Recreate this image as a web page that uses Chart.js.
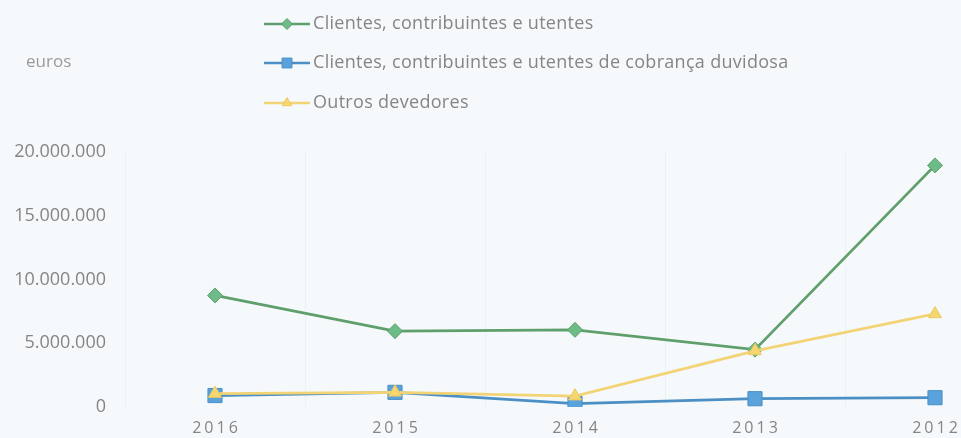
<!DOCTYPE html>
<html>
<head>
<meta charset="utf-8">
<script src="https://cdn.jsdelivr.net/npm/chart.js@4.4.1/dist/chart.umd.min.js"></script>
<style>
  html, body { margin: 0; padding: 0; background: #f6f9fb; overflow: hidden; }
  #wrap { position: relative; width: 1030px; height: 438px; }
</style>
</head>
<body>
<div id="wrap"><canvas id="c"></canvas></div>
<script>
// ---- data ----
const categories = ['2016', '2015', '2014', '2013', '2012'];
const clientes = [8750000, 5950000, 6050000, 4500000, 18950000];
const cobrancaDuvidosa = [900000, 1150000, 270000, 650000, 730000];
const outrosDevedores = [1050000, 1150000, 850000, 4400000, 7300000];
const seriesLabels = [
  'Clientes, contribuintes e utentes',
  'Clientes, contribuintes e utentes de cobrança duvidosa',
  'Outros devedores'
];
const unitLabel = 'euros';
const yTicks = [0, 5000000, 10000000, 15000000, 20000000];

const FONT = "'Open Sans', 'DejaVu Sans', sans-serif";
const TEXT = '#858585';
const legendRadius = [5.5, 7, 5.5];

function fmt(v) {
  return String(Math.round(v)).replace(/\B(?=(\d{3})+(?!\d))/g, '.');
}

const customDraw = {
  id: 'customDraw',
  afterDraw(chart) {
    const ctx = chart.ctx;
    ctx.save();
    // x tick labels with letter spacing
    const xs = chart.scales.x;
    ctx.font = '16px ' + FONT;
    ctx.fillStyle = TEXT;
    ctx.textAlign = 'center';
    ctx.textBaseline = 'middle';
    try { ctx.letterSpacing = '3px'; } catch (e) {}
    categories.forEach((c, i) => {
      ctx.fillText(c, xs.getPixelForValue(i) + 1.5, 428);
    });
    try { ctx.letterSpacing = '0px'; } catch (e) {}
    // unit label
    ctx.font = '17px ' + FONT;
    ctx.fillStyle = '#9a9a9a';
    ctx.textAlign = 'left';
    ctx.fillText(unitLabel, 26, 62);
    // legend
    const rows = [24, 63, 103];
    chart.data.datasets.forEach((ds, i) => {
      const y = rows[i];
      ctx.strokeStyle = ds.borderColor;
      ctx.lineWidth = 2.5;
      ctx.beginPath();
      ctx.moveTo(264, y);
      ctx.lineTo(310, y);
      ctx.stroke();
      ctx.fillStyle = ds.pointBackgroundColor;
      ctx.strokeStyle = ds.pointBorderColor;
      ctx.lineWidth = 1;
      Chart.helpers.drawPoint(ctx, {
        pointStyle: ds.pointStyle,
        radius: legendRadius[i],
        borderWidth: 1
      }, 287, y);
      ctx.fillStyle = TEXT;
      ctx.font = '18px ' + FONT;
      try { ctx.letterSpacing = '0.3px'; } catch (e) {}
      ctx.textAlign = 'left';
      ctx.textBaseline = 'middle';
      ctx.fillText(ds.label, 313, y);
      try { ctx.letterSpacing = '0px'; } catch (e) {}
    });
    ctx.restore();
  }
};

new Chart(document.getElementById('c'), {
  type: 'line',
  data: {
    labels: categories,
    datasets: [
      {
        label: seriesLabels[0],
        data: clientes,
        borderColor: '#5f9f6c',
        backgroundColor: '#6dbb86',
        pointBackgroundColor: '#6dbb86',
        pointBorderColor: '#5f9f6c',
        pointStyle: 'rectRot',
        pointRadius: 7.5,
        pointBorderWidth: 1,
        borderWidth: 2.8,
        order: 2
      },
      {
        label: seriesLabels[1],
        data: cobrancaDuvidosa,
        borderColor: '#4b8fc4',
        backgroundColor: '#5aa2dc',
        pointBackgroundColor: '#5aa2dc',
        pointBorderColor: '#4b8fc4',
        pointStyle: 'rect',
        pointRadius: 10,
        pointBorderWidth: 1,
        borderWidth: 2.8,
        order: 3
      },
      {
        label: seriesLabels[2],
        data: outrosDevedores,
        borderColor: '#f2d476',
        backgroundColor: '#f5d670',
        pointBackgroundColor: '#f5d670',
        pointBorderColor: '#ecc95e',
        pointStyle: 'triangle',
        pointRadius: 7.5,
        pointBorderWidth: 1,
        borderWidth: 2.8,
        order: 1
      }
    ]
  },
  options: {
    responsive: true,
    maintainAspectRatio: false,
    animation: false,
    layout: { autoPadding: false, padding: { top: 0, right: 5, left: 0, bottom: 0 } },
    plugins: {
      legend: { display: false },
      tooltip: { enabled: false }
    },
    scales: {
      x: {
        offset: true,
        grid: { display: true, offset: true, color: 'rgba(120,140,160,0.07)', drawTicks: false },
        border: { display: false },
        ticks: { display: false },
        afterFit(s) { s.height = 31; }
      },
      y: {
        min: 0,
        max: 20000000,
        afterBuildTicks(s) { s.ticks = yTicks.map(v => ({ value: v })); },
        grid: { display: false, drawTicks: false },
        border: { display: false },
        ticks: {
          color: TEXT,
          font: { family: FONT, size: 18 },
          padding: 19,
          callback: (v) => fmt(v)
        },
        afterFit(s) { s.width = 125; s.paddingTop = 0; }
      }
    }
  },
  plugins: [
    customDraw,
    {
      id: 'topPad',
      beforeLayout(chart) { chart.options.layout.padding.top = 152; }
    }
  ]
});
</script>
</body>
</html>
